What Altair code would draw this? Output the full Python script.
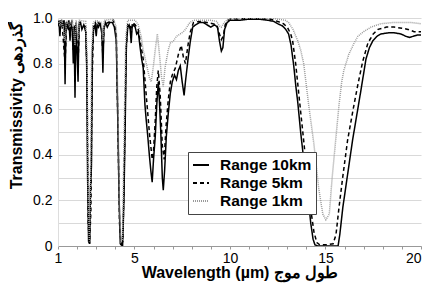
import altair as alt
import pandas as pd

series_names = ["Range 10km", "Range 5km", "Range 1km"]

# (wavelength µm, transmissivity)
range_10km = [
    (1.00, 0.97), (1.05, 0.99), (1.10, 0.92), (1.15, 0.99), (1.25, 0.97), (1.32, 0.99),
    (1.37, 0.71), (1.42, 0.98), (1.50, 0.96), (1.57, 0.99), (1.63, 0.90), (1.67, 0.98),
    (1.75, 0.95), (1.80, 0.80), (1.84, 0.96), (1.89, 0.65), (1.94, 0.97), (2.00, 0.85),
    (2.05, 0.72), (2.10, 0.97), (2.18, 0.98), (2.25, 0.95), (2.35, 0.97), (2.45, 0.94),
    (2.50, 0.80), (2.55, 0.30), (2.60, 0.02), (2.66, 0.01), (2.70, 0.25), (2.75, 0.35),
    (2.80, 0.85), (2.86, 0.95), (2.94, 0.97), (3.00, 0.92), (3.05, 0.97), (3.12, 0.96),
    (3.20, 0.98), (3.30, 0.93), (3.35, 0.76), (3.40, 0.95), (3.48, 0.98), (3.58, 0.96),
    (3.70, 0.98), (3.85, 0.98), (3.95, 0.96), (4.05, 0.90), (4.12, 0.60), (4.20, 0.20),
    (4.26, 0.01), (4.38, 0.00), (4.45, 0.20), (4.52, 0.55), (4.58, 0.88), (4.65, 0.96),
    (4.72, 0.97), (4.78, 0.95), (4.83, 0.89), (4.88, 0.96), (4.95, 0.97), (5.04, 0.96),
    (5.12, 0.93), (5.20, 0.94), (5.30, 0.87), (5.38, 0.82), (5.46, 0.78), (5.55, 0.62),
    (5.62, 0.55), (5.70, 0.48), (5.78, 0.40), (5.86, 0.33), (5.93, 0.28), (6.00, 0.38),
    (6.09, 0.48), (6.17, 0.62), (6.25, 0.72), (6.30, 0.65), (6.38, 0.50), (6.46, 0.30),
    (6.51, 0.245), (6.58, 0.33), (6.67, 0.48), (6.77, 0.58), (6.88, 0.67), (6.98, 0.72),
    (7.10, 0.75), (7.20, 0.73), (7.30, 0.77), (7.40, 0.79), (7.50, 0.72), (7.60, 0.66),
    (7.67, 0.72), (7.82, 0.83), (7.93, 0.90), (8.05, 0.96), (8.20, 0.97), (8.40, 0.98),
    (8.60, 0.98), (8.80, 0.97), (9.00, 0.96), (9.19, 0.97), (9.35, 0.96), (9.45, 0.90),
    (9.55, 0.855), (9.63, 0.87), (9.72, 0.95), (9.85, 0.98), (10.0, 0.99), (10.5, 0.99),
    (11.0, 0.995), (11.5, 0.995), (12.0, 0.99), (12.3, 0.985), (12.5, 0.975), (12.75, 0.965),
    (12.92, 0.95), (13.07, 0.93), (13.2, 0.88), (13.34, 0.79), (13.45, 0.70), (13.55, 0.63),
    (13.70, 0.50), (13.86, 0.38), (14.0, 0.27), (14.12, 0.19), (14.23, 0.10), (14.35, 0.03),
    (14.45, 0.005), (14.6, 0.0), (15.0, 0.0), (15.4, 0.0), (15.66, 0.0), (15.75, 0.05),
    (15.91, 0.17), (16.1, 0.28), (16.42, 0.465), (16.85, 0.68), (17.12, 0.82), (17.3, 0.87),
    (17.48, 0.90), (17.7, 0.92), (17.9, 0.93), (18.3, 0.935), (18.6, 0.935), (18.95, 0.93),
    (19.2, 0.92), (19.4, 0.915), (19.6, 0.92), (19.8, 0.925), (20.0, 0.925),
]

range_5km = [
    (1.00, 0.98), (1.10, 0.95), (1.20, 0.99), (1.37, 0.80), (1.45, 0.98), (1.63, 0.93),
    (1.72, 0.99), (1.80, 0.86), (1.85, 0.97), (1.89, 0.75), (1.95, 0.98), (2.05, 0.80),
    (2.12, 0.98), (2.30, 0.97), (2.45, 0.96), (2.52, 0.75), (2.58, 0.10), (2.65, 0.01),
    (2.72, 0.15), (2.78, 0.70), (2.86, 0.97), (2.95, 0.98), (3.00, 0.95), (3.10, 0.98),
    (3.28, 0.96), (3.35, 0.83), (3.42, 0.97), (3.60, 0.98), (3.90, 0.99), (4.05, 0.93),
    (4.12, 0.60), (4.22, 0.10), (4.30, 0.01), (4.40, 0.02), (4.48, 0.40), (4.56, 0.85),
    (4.65, 0.97), (4.78, 0.97), (4.83, 0.93), (4.90, 0.98), (5.04, 0.97), (5.20, 0.95),
    (5.30, 0.90), (5.46, 0.82), (5.62, 0.66), (5.78, 0.50), (5.93, 0.38), (6.00, 0.42),
    (6.09, 0.55), (6.17, 0.70), (6.25, 0.77), (6.35, 0.66), (6.46, 0.44), (6.56, 0.38),
    (6.65, 0.52), (6.77, 0.64), (6.88, 0.72), (6.98, 0.75), (7.14, 0.78), (7.30, 0.84),
    (7.45, 0.88), (7.56, 0.83), (7.67, 0.80), (7.82, 0.89), (7.93, 0.94), (8.09, 0.98),
    (8.40, 0.985), (8.80, 0.98), (9.10, 0.975), (9.30, 0.97), (9.45, 0.93), (9.55, 0.905),
    (9.65, 0.92), (9.75, 0.97), (9.90, 0.99), (10.0, 0.995), (11.0, 0.997), (12.13, 0.995),
    (12.5, 0.985), (12.8, 0.975), (13.0, 0.96), (13.18, 0.93), (13.28, 0.90), (13.44, 0.80),
    (13.60, 0.67), (13.75, 0.55), (13.90, 0.43), (14.05, 0.30), (14.23, 0.16), (14.40, 0.06),
    (14.55, 0.015), (14.70, 0.005), (15.0, 0.005), (15.40, 0.01), (15.55, 0.05), (15.71, 0.17),
    (15.90, 0.30), (16.16, 0.465), (16.45, 0.60), (16.70, 0.71), (16.95, 0.81), (17.22, 0.89),
    (17.50, 0.93), (17.75, 0.95), (18.20, 0.96), (18.59, 0.96), (19.0, 0.955), (19.32, 0.95),
    (19.64, 0.94), (19.85, 0.94), (20.0, 0.94),
]

range_1km = [
    (1.00, 0.99), (1.10, 0.97), (1.20, 0.995), (1.37, 0.90), (1.45, 0.99), (1.63, 0.96),
    (1.75, 0.995), (1.89, 0.88), (1.95, 0.99), (2.05, 0.90), (2.12, 0.99), (2.45, 0.985),
    (2.52, 0.85), (2.58, 0.25), (2.64, 0.02), (2.70, 0.30), (2.76, 0.85), (2.84, 0.98),
    (3.00, 0.99), (3.28, 0.98), (3.35, 0.90), (3.42, 0.99), (3.90, 0.995), (4.05, 0.96),
    (4.12, 0.70), (4.22, 0.15), (4.30, 0.02), (4.38, 0.03), (4.46, 0.50), (4.55, 0.92),
    (4.65, 0.99), (5.04, 0.99), (5.20, 0.97), (5.35, 0.92), (5.46, 0.86), (5.62, 0.80),
    (5.78, 0.74), (5.88, 0.72), (5.98, 0.78), (6.09, 0.86), (6.20, 0.93), (6.30, 0.85),
    (6.42, 0.74), (6.51, 0.70), (6.60, 0.78), (6.77, 0.86), (6.88, 0.89), (7.05, 0.90),
    (7.20, 0.92), (7.40, 0.93), (7.56, 0.94), (7.67, 0.95), (7.90, 0.98), (8.10, 0.99),
    (9.00, 0.99), (9.30, 0.985), (9.45, 0.965), (9.55, 0.96), (9.70, 0.98), (9.90, 0.995),
    (10.5, 1.0), (12.13, 1.0), (12.5, 0.995), (12.9, 0.99), (13.07, 0.98), (13.30, 0.95),
    (13.55, 0.90), (13.70, 0.86), (13.86, 0.80), (14.12, 0.62), (14.39, 0.45), (14.65, 0.25),
    (14.86, 0.14), (15.02, 0.115), (15.20, 0.14), (15.35, 0.30), (15.54, 0.47), (15.71, 0.62),
    (15.85, 0.72), (15.96, 0.77), (16.22, 0.84), (16.50, 0.89), (16.70, 0.92), (17.00, 0.94),
    (17.38, 0.96), (17.90, 0.975), (18.50, 0.98), (19.50, 0.98), (20.0, 0.975),
]

x_tick_values = list(range(1, 21))
x_label_values = [1, 5, 10, 15, 20]
y_tick_values = [round(i * 0.1, 1) for i in range(11)]

line_colors = ["#000000", "#000000", "#9a9a9a"]
line_dashes = [[1, 0], [4, 3], [1, 1]]

rows = []
for name, pts in zip(series_names, [range_10km, range_5km, range_1km]):
    for i, (w, t) in enumerate(pts):
        rows.append({"series": name, "wavelength": w, "T": t, "idx": i})
df = pd.DataFrame(rows)

FONT = "Liberation Sans"

legend = alt.Legend(
    title=None, orient="none", legendX=130, legendY=134,
    symbolType="stroke", symbolSize=256, symbolStrokeWidth=2,
    labelFont=FONT, labelFontSize=15.5, labelFontWeight="bold", labelColor="#000",
    fillColor="white", strokeColor="#444", padding=4, rowPadding=0, labelOffset=10,
)

x_label_expr = "indexof([" + ",".join(str(v) for v in x_label_values) + "], datum.value) >= 0 ? datum.label : ''"

chart = alt.Chart(df).mark_line(clip=True, strokeWidth=1.5).encode(
    x=alt.X("wavelength:Q", scale=alt.Scale(domain=[1, 20], nice=False),
            axis=alt.Axis(values=x_tick_values, labelExpr=x_label_expr, title="Wavelength (µm) طول موج",
                          grid=False, tickSize=3, labelPadding=2, titlePadding=-1, labelFlush=False,
                          labelAlign={"condition": {"test": "datum.value == 20", "value": "right"}, "value": "center"},
                          labelOverlap=False, domainColor="#999", tickColor="#999")),
    y=alt.Y("T:Q", scale=alt.Scale(domain=[0, 1], nice=False),
            axis=alt.Axis(values=y_tick_values,
                          labelExpr="round(datum.value*10) % 2 == 0 ? (datum.value == 0 ? '0' : format(datum.value, '.1f')) : ''",
                          title="Transmissivity گذردهی", grid=True, gridColor="#d9d9d9", tickSize=0,
                          labelPadding=6, titlePadding=8, titleY=87, labelFlush=False, labelOverlap=False,
                          domainColor="#dddddd")),
    color=alt.Color("series:N", scale=alt.Scale(domain=series_names, range=line_colors), legend=legend),
    strokeDash=alt.StrokeDash("series:N", scale=alt.Scale(domain=series_names, range=line_dashes), legend=legend),
    order="idx:Q",
).properties(
    width=363, height=228,
    padding={"left": 50, "top": 10, "right": 2, "bottom": 38},
    autosize=alt.AutoSizeParams(type="none"),
).configure_view(stroke=None).configure_axis(
    labelFont=FONT, labelFontSize=14, labelColor="#000",
    titleFont=FONT, titleFontSize=16, titleFontWeight="bold", titleColor="#000",
)

chart.save("out.html", embed_options={"renderer": "svg", "actions": False})
